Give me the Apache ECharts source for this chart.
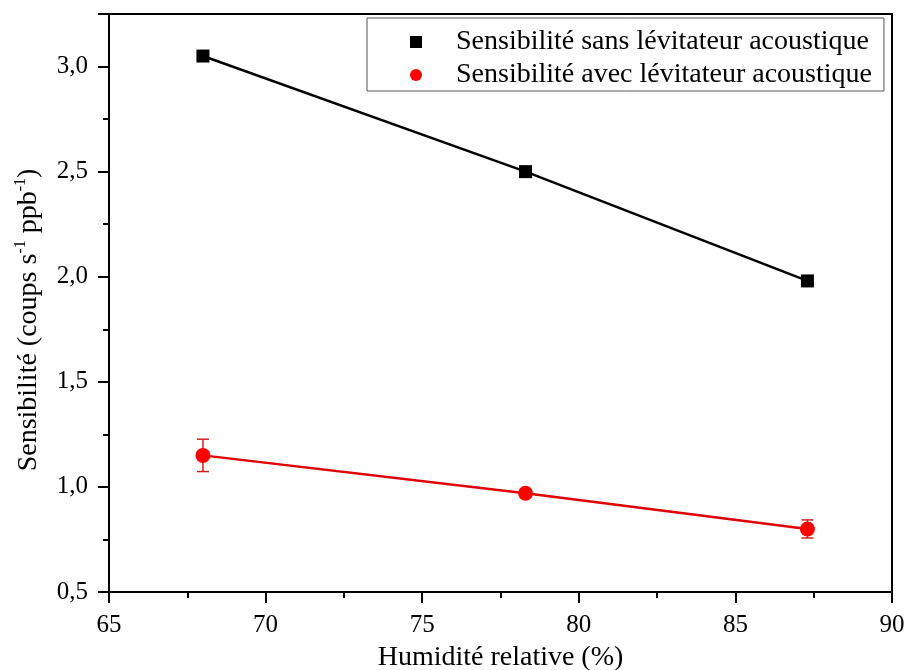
<!DOCTYPE html>
<html><head><meta charset="utf-8">
<script src="https://cdn.jsdelivr.net/npm/echarts@6/dist/echarts.min.js"></script>
<style>html,body{margin:0;padding:0;background:#fff}#c{width:907px;height:670px}</style>
</head><body><div id="c"></div>
<script>
const humidity = [68.0, 78.3, 87.3];
const sansValues = [3.05, 2.50, 1.98];
const avecValues = [1.15, 0.97, 0.80];
const avecErrors = [0.077, 0.01, 0.043];
const xTicks = [65, 70, 75, 80, 85, 90];
const yTicks = [0.5, 1.0, 1.5, 2.0, 2.5, 3.0];
const seriesNames = ['Sensibilité sans lévitateur acoustique', 'Sensibilité avec lévitateur acoustique'];

const FONT = '"Liberation Serif","Times New Roman",serif';
const chart = echarts.init(document.getElementById('c'));
const fmt = v => (Math.round(v * 10) / 10).toFixed(1).replace('.', ',');

chart.setOption({
  animation: false,
  backgroundColor: '#fff',
  grid: { left: 109, top: 14, right: 15, bottom: 78, show: true, borderColor: '#000', borderWidth: 2, backgroundColor: 'transparent', containLabel: false, outerBoundsMode: 'none' },
  legend: {
    orient: 'vertical', left: 367, top: 18,
    padding: [10, 12, 2, 43], itemGap: 5, itemWidth: 12, itemHeight: 12,
    borderColor: '#555', borderWidth: 1,
    textStyle: { fontFamily: FONT, fontSize: 28, color: '#000', padding: [0, 0, 0, 29] },
    data: [{ name: seriesNames[0], icon: 'rect' }, { name: seriesNames[1], icon: 'circle' }]
  },
  xAxis: {
    type: 'value', min: xTicks[0], max: xTicks[xTicks.length - 1], interval: 5,
    name: 'Humidité relative (%)', nameLocation: 'middle', nameGap: 52,
    nameTextStyle: { fontFamily: FONT, fontSize: 28, color: '#000' },
    axisLine: { lineStyle: { color: '#000', width: 2 } },
    axisTick: { show: true, length: 11, lineStyle: { color: '#000', width: 2 } },
    minorTick: { show: true, splitNumber: 2, length: 6, lineStyle: { color: '#000', width: 2 } },
    splitLine: { show: false },
    axisLabel: { fontFamily: FONT, fontSize: 25, color: '#000', margin: 21 }
  },
  yAxis: {
    type: 'value', min: 0.5, max: 3.25, interval: 0.5,
    name: '{n|Sensibilité (coups s}{s|-1}{n| ppb}{s|-1}{n|)}', nameLocation: 'middle', nameGap: 66,
    nameTextStyle: {
      fontFamily: FONT, fontSize: 28, color: '#000', padding: [0, 34, 0, 0],
      rich: {
        n: { fontFamily: FONT, fontSize: 28, color: '#000', lineHeight: 30, verticalAlign: 'bottom' },
        s: { fontFamily: FONT, fontSize: 16, color: '#000', lineHeight: 30, verticalAlign: 'top' }
      }
    },
    axisLine: { show: true, lineStyle: { color: '#000', width: 2 } },
    axisTick: { show: true, length: 11, lineStyle: { color: '#000', width: 2 } },
    minorTick: { show: true, splitNumber: 2, length: 6, lineStyle: { color: '#000', width: 2 } },
    splitLine: { show: false },
    axisLabel: {
      fontFamily: FONT, fontSize: 25, color: '#000', margin: 21,
      formatter: v => (yTicks.some(t => Math.abs(t - v) < 1e-9) ? fmt(v) : '')
    }
  },
  series: [
    {
      name: seriesNames[0], type: 'line', symbol: 'rect', symbolSize: 13,
      data: humidity.map((x, i) => [x, sansValues[i]]),
      lineStyle: { color: '#000', width: 2.5 }, itemStyle: { color: '#000' }, z: 3
    },
    {
      name: seriesNames[1], type: 'line', symbol: 'circle', symbolSize: 15,
      data: humidity.map((x, i) => [x, avecValues[i]]),
      lineStyle: { color: '#e00000', width: 2.5 }, itemStyle: { color: '#ff0000' }, z: 3
    },
    {
      type: 'custom', name: 'err', z: 2,
      data: humidity.map((x, i) => [x, avecValues[i] - avecErrors[i], avecValues[i] + avecErrors[i]]),
      renderItem: (params, api) => {
        const lo = api.coord([api.value(0), api.value(1)]);
        const hi = api.coord([api.value(0), api.value(2)]);
        const w = 6;
        const st = { stroke: '#d02020', lineWidth: 1.5 };
        return { type: 'group', children: [
          { type: 'line', shape: { x1: lo[0], y1: lo[1], x2: hi[0], y2: hi[1] }, style: st },
          { type: 'line', shape: { x1: lo[0] - w, y1: lo[1], x2: lo[0] + w, y2: lo[1] }, style: st },
          { type: 'line', shape: { x1: hi[0] - w, y1: hi[1], x2: hi[0] + w, y2: hi[1] }, style: st }
        ]};
      }
    }
  ]
});
</script></body></html>
